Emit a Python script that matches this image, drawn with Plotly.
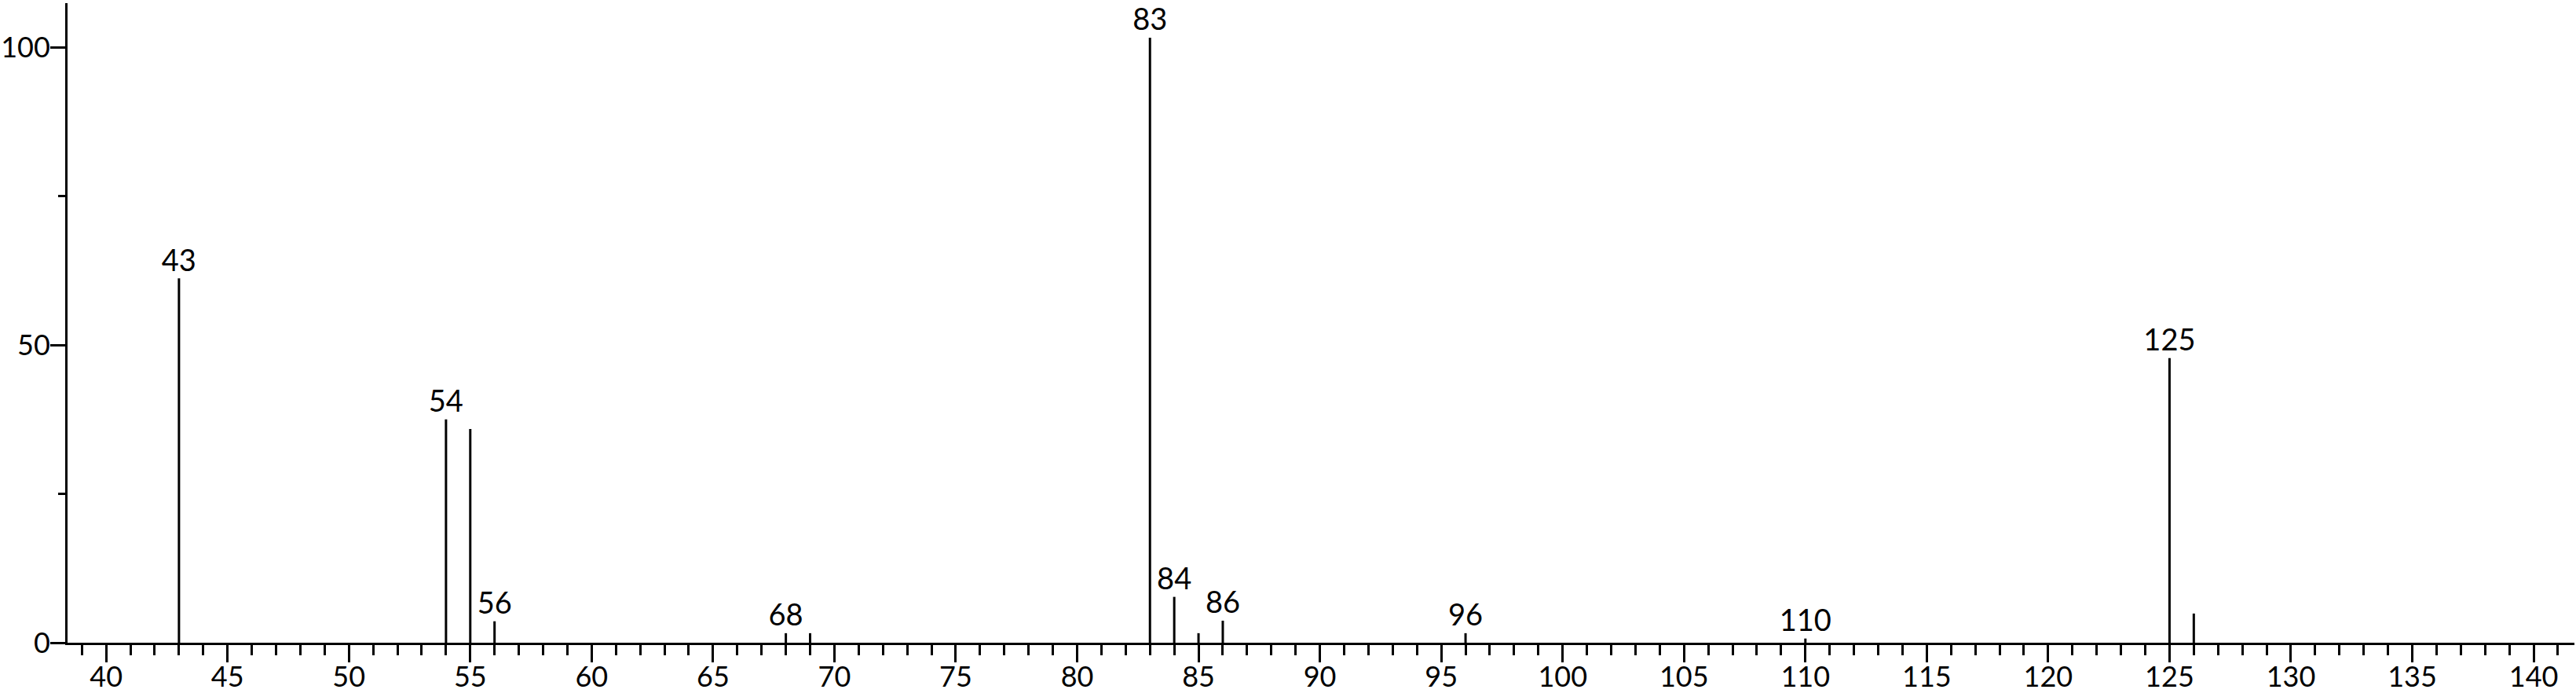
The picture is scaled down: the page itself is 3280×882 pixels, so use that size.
import plotly.graph_objects as go

# mass spectrum: m/z and relative intensity
mz = [43, 54, 55, 56, 68, 69, 83, 84, 85, 86, 96, 110, 125, 126]
intensity = [61.2, 37.5, 35.9, 3.6, 1.6, 1.6, 101.6, 7.7, 1.6, 3.7, 1.6, 0.7, 47.8, 4.9]
labeled_mz = [43, 54, 56, 68, 83, 84, 86, 96, 110, 125]

FONT = "Lato, 'DejaVu Sans', sans-serif"

# stick lines: x, 0 -> x, y, then a gap
xs, ys = [], []
for m, v in zip(mz, intensity):
    xs += [m, m, None]
    ys += [0, v, None]

lab_x = [m for m in mz if m in labeled_mz]
lab_y = [v for m, v in zip(mz, intensity) if m in labeled_mz]

fig = go.Figure()
fig.add_trace(go.Scatter(x=xs, y=ys, mode="lines",
                         line=dict(color="black", width=3),
                         hoverinfo="skip", showlegend=False))
fig.add_trace(go.Scatter(x=lab_x, y=lab_y, mode="text",
                         text=[str(m) for m in lab_x],
                         textposition="top center",
                         textfont=dict(family=FONT, size=38, color="black"),
                         cliponaxis=False, showlegend=False))

fig.update_layout(
    width=3280, height=882,
    margin=dict(l=86, r=2, t=4, b=64, pad=0),
    paper_bgcolor="white", plot_bgcolor="white",
    font=dict(family=FONT, size=36, color="black"),
    xaxis=dict(
        range=[38.41, 141.68], showgrid=False, zeroline=False, automargin=False,
        showline=True, linecolor="black", linewidth=3,
        tickmode="linear", tick0=40, dtick=5, ticklabelstandoff=-12,
        ticks="outside", ticklen=22, tickwidth=3, tickcolor="black",
        minor=dict(tickmode="linear", tick0=40, dtick=1, ticks="outside",
                   ticklen=13, tickwidth=3, tickcolor="black", showgrid=False),
    ),
    yaxis=dict(
        range=[0, 107.4], showgrid=False, zeroline=False, automargin=False,
        showline=True, linecolor="black", linewidth=3,
        tickmode="linear", tick0=0, dtick=50, ticklabelstandoff=-7,
        ticks="outside", ticklen=19, tickwidth=3, tickcolor="black",
        minor=dict(tickmode="linear", tick0=0, dtick=25, ticks="outside",
                   ticklen=9, tickwidth=3, tickcolor="black", showgrid=False),
    ),
)

fig.write_html("out.html", config={"displayModeBar": False},
               post_script="document.body.style.margin='0';")
